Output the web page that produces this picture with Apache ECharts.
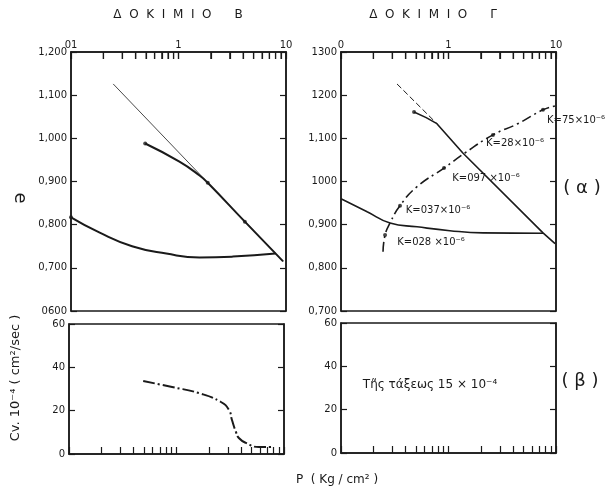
<!DOCTYPE html>
<html>
<head>
<meta charset="utf-8">
<script src="https://cdn.jsdelivr.net/npm/echarts@6/dist/echarts.min.js"></script>
<style>
  html, body { margin: 0; padding: 0; background: #fff; }
  #chart { width: 608px; height: 495px; }
</style>
</head>
<body>
<div id="chart"></div>
<script>
// ΔΟΚΙΜΙΟ Β : e - P
var bVirginLine = [[0.247, 1.126], [9.4, 0.715]]
var bCompression = [[0.49, 0.988], [1.02, 0.946], [1.57, 0.914], [1.87, 0.897], [4.14, 0.807], [9.4, 0.715]]
var bSwelling = [[0.1, 0.817], [0.183, 0.782], [0.37, 0.75], [0.77, 0.733], [1.57, 0.724], [3.2, 0.726], [8.0, 0.733]]
var bDots = [[0.1, 0.817], [0.49, 0.988], [1.87, 0.897], [4.14, 0.807]]
// ΔΟΚΙΜΙΟ Β : Cv - P
var bCv = [[0.49, 33.7], [0.91, 30.9], [1.62, 28.1], [2.59, 24.0], [3.08, 20.3], [3.28, 15.7], [3.57, 10.2], [3.8, 7.4], [4.43, 5.1], [5.85, 3.2], [7.57, 3.2], [7.7, 3.7]]

// ΔΟΚΙΜΙΟ Γ : e - P
var gVirginDashed = [[0.332, 1.226], [0.78, 1.134]]
var gCompression = [[0.478, 1.161], [0.62, 1.148], [0.78, 1.134], [1.36, 1.066], [7.57, 0.881], [9.8, 0.856]]
var gSwelling = [[0.1, 0.96], [0.175, 0.93], [0.286, 0.904], [0.51, 0.895], [1.03, 0.886], [2.09, 0.881], [7.6, 0.88]]
var gK = [[0.246, 0.837], [0.257, 0.876], [0.286, 0.904], [0.354, 0.944], [0.51, 0.988], [0.908, 1.031], [1.42, 1.066], [2.59, 1.108], [4.34, 1.133], [7.57, 1.166], [9.8, 1.175]]
var gDots = [[0.478, 1.161], [0.257, 0.876], [0.354, 0.944], [0.908, 1.031], [2.59, 1.108], [7.57, 1.166]]

// άξονες
var pTicks = [0.1, 0.2, 0.3, 0.4, 0.5, 0.6, 0.7, 0.8, 0.9, 1, 2, 3, 4, 5, 6, 7, 8, 9, 10]
var pLabelValues = [0.1, 1, 10]
var pLabelsB = ['01', '1', '10']
var pLabelsG = ['0', '1', '10']
var eLabelsB = ['0600', '0,700', '0,800', '0,900', '1,000', '1,100', '1,200']
var eLabelsG = ['0,700', '0,800', '0,900', '1000', '1,100', '1200', '1300']
var cvLabels = ['0', '20', '40', '60']

;(function () {
  var myChart = echarts.init(document.getElementById('chart'))
  var ink = '#1a1a1a'
  var font = 'DejaVu Sans'

  var grids = [
    { left: 71, top: 52, width: 215, height: 259 },
    { left: 69, top: 324, width: 215, height: 130 },
    { left: 341, top: 52, width: 215, height: 259 },
    { left: 341, top: 323, width: 215, height: 130 },
  ].map(function (g) {
    g.show = true
    g.borderColor = ink
    g.borderWidth = 1.5
    return g
  })

  var xAxisFor = function (gridIndex, top, labels) {
    return {
      type: 'log',
      gridIndex: gridIndex,
      min: 0.1,
      max: 10,
      position: top ? 'top' : 'bottom',
      axisLine: { show: true, lineStyle: { color: ink, width: 1.5 } },
      axisTick: { show: true, inside: true, length: 7, customValues: pTicks, lineStyle: { color: ink, width: 1.2 } },
      axisLabel: {
        show: !!labels,
        margin: 2,
        color: ink,
        fontFamily: font,
        fontSize: 10,
        formatter: function (v) {
          var i = pLabelValues.indexOf(+(+v).toPrecision(3))
          return labels && i >= 0 ? labels[i] : ''
        },
      },
      splitLine: { show: false },
    }
  }

  var yAxisFor = function (gridIndex, min, max, step, labels, right) {
    return {
      type: 'value',
      gridIndex: gridIndex,
      min: min,
      max: max,
      interval: step,
      position: right ? 'right' : 'left',
      axisLine: { show: true, lineStyle: { color: ink, width: 1.5 } },
      axisTick: { show: true, inside: true, length: 6, lineStyle: { color: ink, width: 1.2 } },
      axisLabel: {
        show: !right,
        margin: 4,
        color: ink,
        fontFamily: font,
        fontSize: 10,
        formatter: function (v) {
          return labels[Math.round((v - min) / step)]
        },
      },
      splitLine: { show: false },
    }
  }

  var line = function (x, y, data, width, type, smooth) {
    return {
      type: 'line',
      xAxisIndex: x,
      yAxisIndex: y,
      data: data,
      smooth: smooth,
      symbol: 'none',
      silent: true,
      lineStyle: { color: ink, width: width, type: type },
    }
  }
  var dots = function (x, y, data) {
    return {
      type: 'scatter',
      xAxisIndex: x,
      yAxisIndex: y,
      data: data,
      symbolSize: 4,
      itemStyle: { color: ink },
      silent: true,
    }
  }
  // λογαριθμικές υποδιαιρέσεις στην πάνω πλευρά
  var topTicks = function (x, y, yTop) {
    return {
      type: 'custom',
      xAxisIndex: x,
      yAxisIndex: y,
      silent: true,
      clip: false,
      z: 10,
      data: pTicks.map(function (v) { return [v, yTop] }),
      renderItem: function (params, api) {
        var p = api.coord([api.value(0), api.value(1)])
        return {
          type: 'line',
          shape: { x1: p[0], y1: p[1], x2: p[0], y2: p[1] + 7 },
          style: { stroke: ink, lineWidth: 1.2 },
        }
      },
    }
  }

  var txt = function (x, y, text, size, extra) {
    var o = {
      type: 'text',
      x: x,
      y: y,
      style: {
        text: text,
        fill: ink,
        font: (size || 10) + 'px "' + font + '"',
        align: 'center',
        verticalAlign: 'middle',
      },
    }
    if (extra) Object.assign(o, extra)
    return o
  }

  var option = {
    animation: false,
    grid: grids,
    xAxis: [
      xAxisFor(0, true, pLabelsB),
      xAxisFor(1, false, null),
      xAxisFor(2, true, pLabelsG),
      xAxisFor(3, false, null),
    ],
    yAxis: [
      yAxisFor(0, 0.6, 1.2, 0.1, eLabelsB, false),
      yAxisFor(1, 0, 60, 20, cvLabels, false),
      yAxisFor(2, 0.7, 1.3, 0.1, eLabelsG, false),
      yAxisFor(3, 0, 60, 20, cvLabels, false),
      yAxisFor(0, 0.6, 1.2, 0.1, eLabelsB, true),
      yAxisFor(1, 0, 60, 20, cvLabels, true),
      yAxisFor(2, 0.7, 1.3, 0.1, eLabelsG, true),
      yAxisFor(3, 0, 60, 20, cvLabels, true),
    ],
    series: [
      topTicks(0, 0, 1.2),
      topTicks(2, 2, 1.3),
      line(0, 0, bVirginLine, 0.8, 'solid', false),
      line(0, 0, bCompression, 2, 'solid', true),
      line(0, 0, bSwelling, 2, 'solid', true),
      dots(0, 0, bDots),
      line(1, 1, bCv, 2, [12, 3, 2, 3], true),
      line(2, 2, gVirginDashed, 1, [6, 3], false),
      line(2, 2, gCompression, 1.6, 'solid', false),
      line(2, 2, gSwelling, 1.6, 'solid', true),
      line(2, 2, gK, 1.6, [10, 4, 2, 4], true),
      dots(2, 2, gDots),
    ],
    graphic: [
      txt(178, 15, 'Δ  Ο  Κ  Ι  Μ  Ι  Ο      Β', 12),
      txt(433, 15, 'Δ  Ο  Κ  Ι  Μ  Ι  Ο      Γ', 12),
      txt(20, 198, 'e', 18, { rotation: -Math.PI / 2 }),
      txt(16, 378, 'Cv. 10⁻⁴ ( cm²/sec )', 13, { rotation: Math.PI / 2 }),
      txt(337, 480, 'P  ( Kg / cm² )', 12),
      txt(582, 188, '( α )', 18),
      txt(580, 381, '( β )', 18),
      txt(430, 385, 'Τῆς τάξεως 15 × 10⁻⁴', 12),
      txt(576, 120, 'K=75×10⁻⁶', 10),
      txt(515, 143, 'K=28×10⁻⁶', 10),
      txt(486, 178, 'K=097 ×10⁻⁶', 10),
      txt(438, 210, 'K=037×10⁻⁶', 10),
      txt(431, 242, 'K=028 ×10⁻⁶', 10),
    ],
  }
  myChart.setOption(option)
})()
</script>
</body>
</html>
